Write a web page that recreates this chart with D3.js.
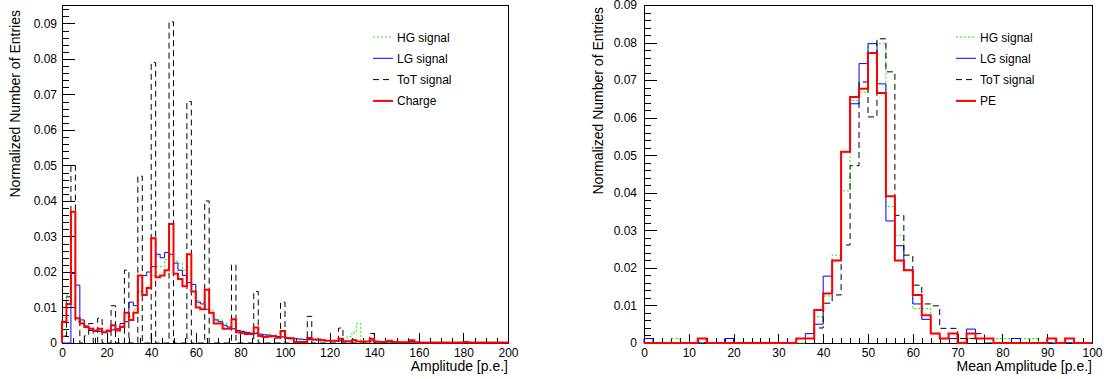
<!DOCTYPE html>
<html>
<head>
<meta charset="utf-8">
<script src="https://cdn.jsdelivr.net/npm/d3@7"></script>
<style>
  body { margin: 0; background: #fff; }
  text { font-family: "Liberation Sans", Arial, sans-serif; }
</style>
</head>
<body>
<script>
// left pad: amplitude per readout, 2 p.e. bins from 0 to 200
var ampBinWidth = 2;
var ampHG = [
  0.002, 0.0135, 0.011, 0.007, 0.006, 0.0045, 0.004, 0.0035, 0.0035, 0.003,
  0.0035, 0.004, 0.004, 0.005, 0.006, 0.0075, 0.0095, 0.0145, 0.0135, 0.016,
  0.019, 0.0215, 0.0215, 0.0235, 0.0245, 0.023, 0.0225, 0.0205, 0.018, 0.016,
  0.012, 0.0115, 0.0105, 0.0093, 0.0068, 0.0065, 0.0055, 0.0045, 0.004, 0.0037,
  0.0033, 0.003, 0.0028, 0.003, 0.0025, 0.0023, 0.0025, 0.002, 0.0018, 0.0018,
  0.0017, 0.0014, 0.0012, 0.0011, 0.001, 0.001, 0.0009, 0.0008, 0.0008, 0.0007,
  0.0007, 0.0007, 0.0006, 0.0007, 0.0018, 0.003, 0.0055, 0.0006, 0.0004, 0.0004,
  0.0003, 0.0003, 0.0003, 0.0002, 0.0002, 0.0002, 0.0002, 0.0002, 0.0002, 0.0002,
  0.0002, 0.0002, 0.0002, 0.0002, 0.0002, 0.0002, 0.0002, 0.0002, 0.0002, 0.0002,
  0.0002, 0.0002, 0.0002, 0.0002, 0.0002, 0.0002, 0.0002, 0.0002, 0.0002, 0.0002
];
var ampLG = [
  0, 0, 0.0196, 0.0163, 0.0065, 0.0048, 0.0035, 0.0033, 0.0033, 0.003,
  0.0033, 0.0037, 0.004, 0.0055, 0.006, 0.0115, 0.0105, 0.019, 0.019, 0.020,
  0.0215, 0.025, 0.024, 0.0255, 0.025, 0.0225, 0.0205, 0.019, 0.017, 0.0165,
  0.0115, 0.011, 0.0095, 0.0085, 0.0065, 0.006, 0.005, 0.0045, 0.004, 0.0035,
  0.0033, 0.003, 0.0028, 0.0027, 0.0025, 0.0023, 0.0022, 0.002, 0.0018, 0.0017,
  0.0015, 0.0014, 0.0012, 0.0011, 0.001, 0.001, 0.0009, 0.0009, 0.0008, 0.0007,
  0.0007, 0.0006, 0.0006, 0.0005, 0.0005, 0.0009, 0.0004, 0.0004, 0.0004, 0.0006,
  0.0003, 0.0003, 0.0003, 0.0003, 0.0002, 0.0002, 0.0002, 0.0002, 0.0004, 0.0002,
  0.0002, 0.0002, 0.0002, 0.0002, 0.0002, 0.0002, 0.0002, 0.0002, 0.0002, 0.0002,
  0.0002, 0.0002, 0.0002, 0.0002, 0.0002, 0.0002, 0.0002, 0.0002, 0.0002, 0.0002
];
var ampToT = [
  0.002, 0.013, 0.050, 0.006, 0, 0.002, 0.0055, 0, 0.007, 0,
  0, 0.0105, 0, 0, 0.0205, 0, 0, 0.047, 0, 0,
  0.079, 0, 0, 0, 0.0905, 0, 0, 0, 0.068, 0,
  0, 0, 0.040, 0, 0, 0, 0, 0, 0.022, 0,
  0, 0, 0, 0.0145, 0, 0, 0, 0, 0, 0.0115,
  0, 0, 0, 0, 0, 0.0075, 0, 0, 0, 0,
  0, 0, 0.0042, 0, 0, 0, 0, 0, 0, 0.0027,
  0, 0, 0, 0, 0, 0, 0, 0, 0, 0,
  0, 0, 0, 0, 0, 0, 0, 0, 0, 0,
  0, 0, 0, 0, 0, 0, 0, 0, 0, 0
];
var ampCharge = [
  0.006, 0.011, 0.037, 0.007, 0.0055, 0.0045, 0.004, 0.0035, 0.004, 0.003,
  0.0035, 0.005, 0.0035, 0.0045, 0.0085, 0.0065, 0.0085, 0.019, 0.0135, 0.0155,
  0.0295, 0.0185, 0.019, 0.0205, 0.0335, 0.0195, 0.018, 0.016, 0.025, 0.0145,
  0.010, 0.0095, 0.015, 0.0085, 0.0055, 0.0055, 0.004, 0.004, 0.0067, 0.003,
  0.0028, 0.0025, 0.0025, 0.0044, 0.002, 0.0017, 0.0018, 0.002, 0.0015, 0.0034,
  0.0014, 0.0013, 0.0003, 0.0003, 0.0003, 0.0014, 0.001, 0.001, 0.0008, 0.0006,
  0.0006, 0.0006, 0.0012, 0.0004, 0.0004, 0.0008, 0.0004, 0.0004, 0.0004, 0.0012,
  0.0004, 0.0003, 0.0003, 0.0006, 0.0003, 0.0002, 0.0002, 0.0002, 0.0008, 0.0002,
  0.0001, 0.0001, 0.0001, 0.0001, 0.0001, 0.0001, 0.0001, 0.0001, 0.0001, 0.0001,
  0.0003, 0.0001, 0.0001, 0.0001, 0.0001, 0.0001, 0.0001, 0.0001, 0.0001, 0.0001
];

// right pad: mean amplitude, 2 p.e. bins from 0 to 100
var meanBinWidth = 2;
var meanHG = [
  0, 0, 0, 0.0012, 0, 0, 0, 0, 0, 0,
  0, 0, 0, 0, 0, 0, 0, 0, 0.0012, 0.007,
  0.0125, 0.0234, 0.0405, 0.0646, 0.0668, 0.0798, 0.0797, 0.0363, 0.0287, 0.0194,
  0.0092, 0.0092, 0.0025, 0.0012, 0.0012, 0.0012, 0.0012, 0.0012, 0.0012, 0.0012,
  0.0012, 0.0012, 0.0012, 0.0012, 0, 0, 0, 0, 0, 0
];
var meanLG = [
  0.0012, 0, 0, 0, 0, 0, 0, 0, 0, 0.0012,
  0, 0, 0, 0, 0, 0, 0, 0.0012, 0.0025, 0.005,
  0.0178, 0.022, 0.0509, 0.0637, 0.0744, 0.0797, 0.069, 0.0325, 0.0259, 0.0194,
  0.0104, 0.0063, 0.0025, 0.0012, 0.0012, 0, 0.0037, 0.0012, 0.0012, 0,
  0, 0.0012, 0, 0, 0, 0, 0, 0, 0, 0
];
var meanToT = [
  0, 0, 0, 0, 0, 0, 0, 0, 0, 0,
  0, 0, 0, 0, 0, 0, 0, 0.0012, 0.0012, 0.004,
  0.0106, 0.0128, 0.0261, 0.0472, 0.0695, 0.0602, 0.081, 0.0722, 0.034, 0.0234,
  0.0154, 0.0104, 0.0099, 0.0039, 0.0039, 0.0012, 0.0012, 0.0025, 0, 0,
  0, 0, 0, 0, 0, 0, 0, 0, 0, 0
];
var meanPE = [
  0, 0, 0, 0, 0, 0, 0.0012, 0, 0, 0,
  0, 0, 0, 0, 0, 0, 0, 0.0012, 0.0012, 0.0088,
  0.0132, 0.022, 0.0509, 0.0655, 0.0677, 0.0772, 0.0666, 0.0391, 0.022, 0.0194,
  0.0128, 0.0074, 0.0025, 0.0012, 0.0025, 0, 0.0025, 0.0012, 0.0012, 0,
  0, 0, 0, 0, 0, 0.0012, 0, 0.0012, 0, 0
];

var yTickValues = [0, 0.01, 0.02, 0.03, 0.04, 0.05, 0.06, 0.07, 0.08, 0.09];

var svg = d3.select("body").append("svg")
    .attr("width", 1104)
    .attr("height", 379);

var styles = {
  hg:  { color: "#00ff00", width: 1, dash: "2,2" },
  lg:  { color: "#0000ff", width: 1, dash: null },
  tot: { color: "#000000", width: 1, dash: "6,4" },
  q:   { color: "#ff0000", width: 2, dash: null }
};

function drawPanel(p) {
  var x = d3.scaleLinear().domain(p.xDomain).range([p.left, p.right]);
  var y = d3.scaleLinear().domain([0, p.yMax]).range([p.bottom, p.top]);
  var g = svg.append("g");

  g.append("rect")
    .attr("x", p.left).attr("y", p.top)
    .attr("width", p.right - p.left).attr("height", p.bottom - p.top)
    .attr("fill", "none").attr("stroke", "#000")
    .attr("shape-rendering", "crispEdges");

  function clean(sel) {
    sel.select(".domain").remove();
    sel.selectAll("line").attr("shape-rendering", "crispEdges");
    sel.attr("font-size", 12).attr("font-family", "Liberation Sans, Arial, sans-serif");
  }

  // x axis, ticks point into the frame
  g.append("g").attr("transform", "translate(0," + p.bottom + ")")
    .call(d3.axisBottom(x).tickValues(p.xMinor).tickFormat("").tickSize(-p.xMinorLen))
    .call(clean);
  g.append("g").attr("transform", "translate(0," + p.bottom + ")")
    .call(d3.axisBottom(x).tickValues(p.xMajor).tickSize(-p.xMajorLen).tickPadding(5))
    .call(clean);

  // y axis
  g.append("g").attr("transform", "translate(" + p.left + ",0)")
    .call(d3.axisLeft(y).tickValues(p.yMinor).tickFormat("").tickSize(-7))
    .call(clean);
  g.append("g").attr("transform", "translate(" + p.left + ",0)")
    .call(d3.axisLeft(y).tickValues(yTickValues).tickSize(-13).tickPadding(p.yPad)
      .tickFormat(function(d) { return d === 0 ? "0" : d3.format(".2f")(d); }))
    .call(clean);

  g.selectAll(".tick text").attr("fill", "#000");

  // titles
  g.append("text")
    .attr("x", p.right).attr("y", 371)
    .attr("text-anchor", "end").attr("font-size", 14)
    .text(p.xTitle);
  g.append("text")
    .attr("transform", "translate(" + p.yTitleX + "," + p.yTitleTop + ") rotate(-90)")
    .attr("text-anchor", "end").attr("font-size", 14)
    .text("Normalized Number of Entries");

  // histograms
  var line = d3.line()
    .x(function(d) { return x(d[0]); })
    .y(function(d) { return y(d[1]); })
    .curve(d3.curveStepAfter);

  p.series.forEach(function(s) {
    var n = s.values.length;
    var edges = d3.range(n + 1).map(function(i) { return p.xDomain[0] + i * p.binWidth; });
    var pts = [[edges[0], 0]];
    s.values.forEach(function(v, i) { pts.push([edges[i], v]); });
    pts.push([edges[n], s.values[n - 1]]);
    pts.push([edges[n], 0]);
    g.append("path")
      .datum(pts)
      .attr("d", line)
      .attr("fill", "none")
      .attr("stroke", s.style.color)
      .attr("stroke-width", s.style.width)
      .attr("stroke-dasharray", s.style.dash);
  });

  // legend
  var leg = g.append("g");
  p.series.slice().sort(function(a, b) { return a.order - b.order; }).forEach(function(s, i) {
    var cy = p.legY + i * 21.3;
    leg.append("line")
      .attr("x1", p.legX).attr("x2", p.legX + 20)
      .attr("y1", cy).attr("y2", cy)
      .attr("stroke", s.style.color)
      .attr("stroke-width", s.style.width)
      .attr("stroke-dasharray", s.style.dash);
    leg.append("text")
      .attr("x", p.legX + 24).attr("y", cy + 4.5)
      .attr("font-size", 12)
      .text(s.label);
  });
}

drawPanel({
  left: 62, right: 508, top: 5, bottom: 343,
  xDomain: [0, 200], yMax: 0.0952, binWidth: ampBinWidth,
  xMajor: d3.range(0, 201, 20), xMinor: d3.range(0, 201, 5),
  xMajorLen: 10, xMinorLen: 5,
  yMinor: d3.range(0, 0.095, 0.002), yPad: 5,
  xTitle: "Amplitude [p.e.]", yTitleX: 20, yTitleTop: 10,
  legX: 373, legY: 37,
  series: [
    { label: "HG signal", values: ampHG, style: styles.hg, order: 0 },
    { label: "LG signal", values: ampLG, style: styles.lg, order: 1 },
    { label: "ToT signal", values: ampToT, style: styles.tot, order: 2 },
    { label: "Charge", values: ampCharge, style: styles.q, order: 3 }
  ]
});

drawPanel({
  left: 644, right: 1092, top: 5, bottom: 343,
  xDomain: [0, 100], yMax: 0.09, binWidth: meanBinWidth,
  xMajor: d3.range(0, 101, 10), xMinor: d3.range(0, 101, 2),
  xMajorLen: 9, xMinorLen: 5,
  yMinor: d3.range(0, 0.0901, 0.002), yPad: 7,
  xTitle: "Mean Amplitude [p.e.]", yTitleX: 603, yTitleTop: 7,
  legX: 956, legY: 37,
  series: [
    { label: "HG signal", values: meanHG, style: styles.hg, order: 0 },
    { label: "LG signal", values: meanLG, style: styles.lg, order: 1 },
    { label: "ToT signal", values: meanToT, style: styles.tot, order: 2 },
    { label: "PE", values: meanPE, style: styles.q, order: 3 }
  ]
});
</script>
</body>
</html>
